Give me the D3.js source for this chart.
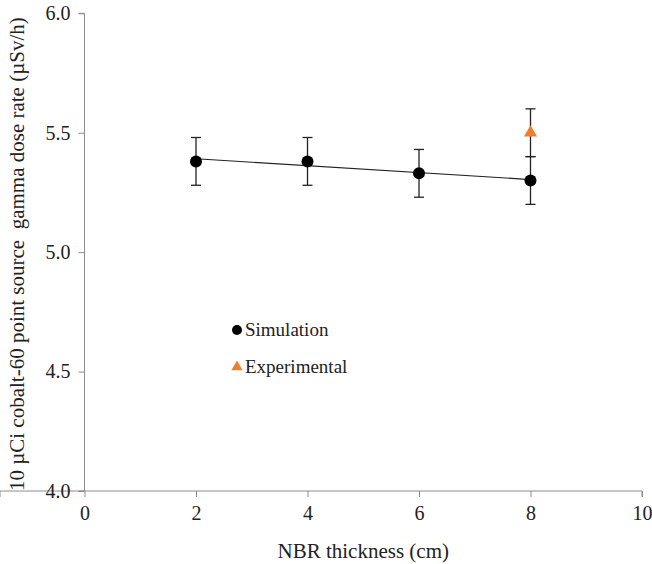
<!DOCTYPE html>
<html><head><meta charset="utf-8">
<script src="https://cdn.jsdelivr.net/npm/d3@7"></script>
<style>body{margin:0;background:#fff}svg{display:block}text{font-family:"Liberation Serif","Tinos","Times New Roman",serif}</style>
</head><body>
<svg id="c" width="652" height="564"></svg>
<script>
const simX = [2, 4, 6, 8];
const simY = [5.38, 5.38, 5.33, 5.30];
const simErr = [0.1, 0.1, 0.1, 0.1];
const expX = [8];
const expY = [5.50];
const expErr = [0.1];
const xTicks = [0, 2, 4, 6, 8, 10];
const yTicks = [4.0, 4.5, 5.0, 5.5, 6.0];

const svg = d3.select("#c");
const font = '"Liberation Serif","Tinos","Times New Roman",serif';
const x = d3.scaleLinear().domain([0, 10]).range([84.5, 642]);
const y = d3.scaleLinear().domain([4, 6]).range([491, 13.3]);
const axisColor = "#8c8c8c";

const gx = svg.append("g").attr("transform", `translate(0,${y(4)})`)
  .call(d3.axisBottom(x).tickValues(xTicks).tickSize(6).tickPadding(9).tickFormat(d3.format("d")));
const gy = svg.append("g").attr("transform", `translate(${x(0)},0)`)
  .call(d3.axisLeft(y).tickValues(yTicks).tickSize(6).tickPadding(8).tickFormat(d3.format(".1f")));
[gx, gy].forEach(g => {
  g.attr("font-family", null);
  g.select(".domain").attr("stroke", axisColor).attr("stroke-width", 1);
  g.selectAll(".tick line").attr("stroke", axisColor);
  g.selectAll(".tick text").attr("fill", "#222").style("font-family", font).style("font-size", "20px");
});
gy.select(".domain").attr("d", `M-6,${y(6)}H0V${y(4)}H-6`);
gx.select(".domain").attr("d", `M0,6V0H${x(10)}V6`);

// trendline (least squares on simulation)
const mx = d3.mean(simX), my = d3.mean(simY);
const slope = d3.sum(simX.map((v, i) => (v - mx) * (simY[i] - my))) / d3.sum(simX.map(v => (v - mx) ** 2));
const icp = my - slope * mx;
svg.append("line")
  .attr("x1", x(simX[0])).attr("y1", y(icp + slope * simX[0]))
  .attr("x2", x(simX[simX.length - 1])).attr("y2", y(icp + slope * simX[simX.length - 1]))
  .attr("stroke", "#222").attr("stroke-width", 1.2);

function errBars(xs, ys, es) {
  const g = svg.append("g").attr("stroke", "#222").attr("stroke-width", 1.3);
  xs.forEach((v, i) => {
    const cx = x(v), t = y(ys[i] + es[i]), b = y(ys[i] - es[i]);
    g.append("line").attr("x1", cx).attr("x2", cx).attr("y1", t).attr("y2", b);
    g.append("line").attr("x1", cx - 5).attr("x2", cx + 5).attr("y1", t).attr("y2", t);
    g.append("line").attr("x1", cx - 5).attr("x2", cx + 5).attr("y1", b).attr("y2", b);
  });
}
errBars(simX, simY, simErr);
errBars(expX, expY, expErr);

svg.append("g").selectAll("circle").data(simX).join("circle")
  .attr("cx", d => x(d)).attr("cy", (d, i) => y(simY[i])).attr("r", 6).attr("fill", "#000");

const tri = d3.symbol().type(d3.symbolTriangle).size(75);
svg.append("g").selectAll("path").data(expX).join("path")
  .attr("transform", (d, i) => `translate(${x(d)},${y(expY[i])})`)
  .attr("d", tri).attr("fill", "#ED7D31");

// legend
const lg = svg.append("g");
lg.append("circle").attr("cx", 237).attr("cy", 330).attr("r", 5).attr("fill", "#000");
lg.append("text").attr("x", 245).attr("y", 336).text("Simulation")
  .style("font-family", font).style("font-size", "19px").attr("fill", "#222");
lg.append("path").attr("transform", "translate(237,367)").attr("d", d3.symbol().type(d3.symbolTriangle).size(55)).attr("fill", "#ED7D31");
lg.append("text").attr("x", 245).attr("y", 373).text("Experimental")
  .style("font-family", font).style("font-size", "19px").attr("fill", "#222");

// axis titles
svg.append("text").attr("x", (x(0) + x(10)) / 2).attr("y", 558).attr("text-anchor", "middle")
  .text("NBR thickness (cm)").style("font-family", font).style("font-size", "21px").attr("fill", "#222");
svg.append("text").attr("transform", `translate(24,${(y(4) + y(6)) / 2 + 2}) rotate(-90)`).attr("text-anchor", "middle")
  .text("10 µCi cobalt-60 point source  gamma dose rate (µSv/h)").style("font-family", font).style("font-size", "21px").style("white-space", "pre").attr("fill", "#222");
</script>
</body></html>
